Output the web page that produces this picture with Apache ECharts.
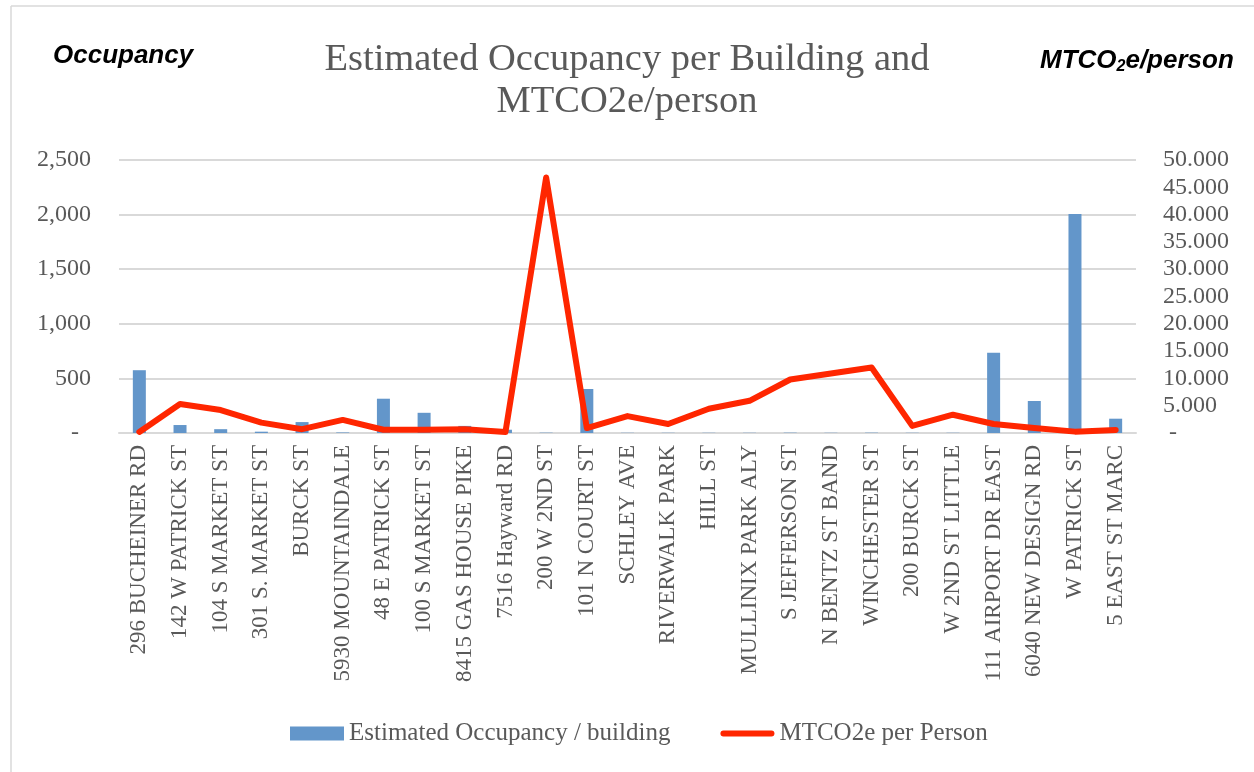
<!DOCTYPE html>
<html>
<head>
<meta charset="utf-8">
<script src="https://cdn.jsdelivr.net/npm/echarts@6/dist/echarts.min.js"></script>
<style>
  html, body { margin: 0; padding: 0; background: #fff; }
  #chart { width: 1254px; height: 772px; }
</style>
</head>
<body>
<div id="chart"></div>
<script>
// building names along the x axis
const buildings = [
  '296 BUCHEINER RD', '142 W PATRICK ST', '104 S MARKET ST', '301 S. MARKET ST',
  'BURCK ST', '5930 MOUNTAINDALE', '48 E PATRICK ST', '100 S MARKET ST',
  '8415 GAS HOUSE PIKE', '7516 Hayward RD', '200 W 2ND ST', '101 N COURT ST',
  'SCHLEY AVE', 'RIVERWALK PARK', 'HILL ST', 'MULLINIX PARK ALY',
  'S JEFFERSON ST', 'N BENTZ ST BAND', 'WINCHESTER ST', '200 BURCK ST',
  'W 2ND ST LITTLE', '111 AIRPORT DR EAST', '6040 NEW DESIGN RD', 'W PATRICK ST',
  '5 EAST ST MARC'
];

// estimated occupancy per building (left axis)
const occupancy = [
  575, 73, 35, 12, 100, 5, 314, 185, 65, 30, 3, 403,
  2, 2, 2, 2, 3, 2, 3, 2, 2, 735, 293, 2005, 131
];

// MTCO2e per person (right axis)
const co2PerPerson = [
  0.2, 5.3, 4.2, 1.9, 0.7, 2.4, 0.6, 0.6, 0.7, 0.2, 46.8, 0.9,
  3.1, 1.65, 4.45, 5.9, 9.8, 10.9, 12.0, 1.3, 3.35, 1.65, 0.9, 0.25, 0.55
];

// axis ticks
const occTicks = [0, 500, 1000, 1500, 2000, 2500];
const co2Ticks = [0, 5, 10, 15, 20, 25, 30, 35, 40, 45, 50];

const serif = 'Liberation Serif';
const grey = '#595959';
const red = '#ff2600';

const chart = echarts.init(document.getElementById('chart'));

chart.setOption({
  animation: false,
  title: {
    text: 'Estimated Occupancy per Building and\nMTCO2e/person',
    left: 'center',
    top: 34,
    textStyle: {
      fontFamily: serif,
      fontWeight: 'normal',
      fontSize: 38.5,
      lineHeight: 42,
      color: grey
    }
  },
  graphic: [
    // frame of the figure
    { type: 'line', shape: { x1: 11, y1: 6, x2: 11, y2: 772 }, style: { stroke: '#d9d9d9', lineWidth: 1.5 } },
    { type: 'line', shape: { x1: 11, y1: 6, x2: 1254, y2: 6 }, style: { stroke: '#d9d9d9', lineWidth: 1.5 } },
    {
      type: 'text', left: 53, top: 43,
      style: {
        text: 'Occupancy',
        font: 'italic bold 26px "Liberation Sans"',
        fill: '#000'
      }
    },
    {
      type: 'text', left: 1040, top: 48,
      style: {
        text: '{a|MTCO}{s|2}{a|e/person}',
        rich: {
          a: { fontFamily: 'Liberation Sans', fontStyle: 'italic', fontWeight: 'bold', fontSize: 26, fill: '#000' },
          s: { fontFamily: 'Liberation Sans', fontStyle: 'italic', fontWeight: 'bold', fontSize: 16, fill: '#000', padding: [11, 0, 0, 0] }
        }
      }
    }
  ],
  legend: {
    left: 290,
    top: 721,
    padding: 0,
    itemWidth: 54,
    itemHeight: 14,
    itemGap: 50,
    symbolKeepAspect: true,
    textStyle: { fontFamily: serif, fontSize: 25, color: grey },
    data: [
      { name: 'Estimated Occupancy / building', icon: 'rect' },
      {
        name: 'MTCO2e per Person',
        icon: 'path://M3,0 H51 A3,3 0 0 1 51,6 H3 A3,3 0 0 1 3,0 Z',
        itemStyle: { color: red }
      }
    ]
  },
  grid: { left: 119, right: 118, top: 160, bottom: 339 },
  xAxis: {
    type: 'category',
    data: buildings,
    axisLine: { lineStyle: { color: '#d9d9d9', width: 2 } },
    axisTick: { show: false },
    axisLabel: {
      rotate: 90,
      interval: 0,
      margin: 12,
      fontFamily: serif,
      fontSize: 23,
      color: grey
    }
  },
  yAxis: [
    {
      type: 'value',
      min: occTicks[0],
      max: occTicks[occTicks.length - 1],
      interval: occTicks[1] - occTicks[0],
      axisLine: { show: false },
      axisTick: { show: false },
      splitLine: { lineStyle: { color: '#d9d9d9', width: 2 } },
      axisLabel: {
        margin: 28,
        fontFamily: serif,
        fontSize: 24,
        color: grey,
        formatter: v => v === 0 ? '-  ' : v.toLocaleString('en-US')
      }
    },
    {
      type: 'value',
      min: co2Ticks[0],
      max: co2Ticks[co2Ticks.length - 1],
      interval: co2Ticks[1] - co2Ticks[0],
      axisLine: { show: false },
      axisTick: { show: false },
      splitLine: { show: false },
      axisLabel: {
        margin: 27,
        fontFamily: serif,
        fontSize: 24,
        color: grey,
        formatter: v => v === 0 ? ' -' : v.toFixed(3)
      }
    }
  ],
  series: [
    {
      name: 'Estimated Occupancy / building',
      type: 'bar',
      data: occupancy,
      barWidth: 13,
      itemStyle: { color: '#6396ca' }
    },
    {
      name: 'MTCO2e per Person',
      type: 'line',
      yAxisIndex: 1,
      data: co2PerPerson,
      symbol: 'none',
      lineStyle: { color: red, width: 6, cap: 'round', join: 'round' },
      itemStyle: { color: red }
    }
  ]
});
</script>
</body>
</html>
